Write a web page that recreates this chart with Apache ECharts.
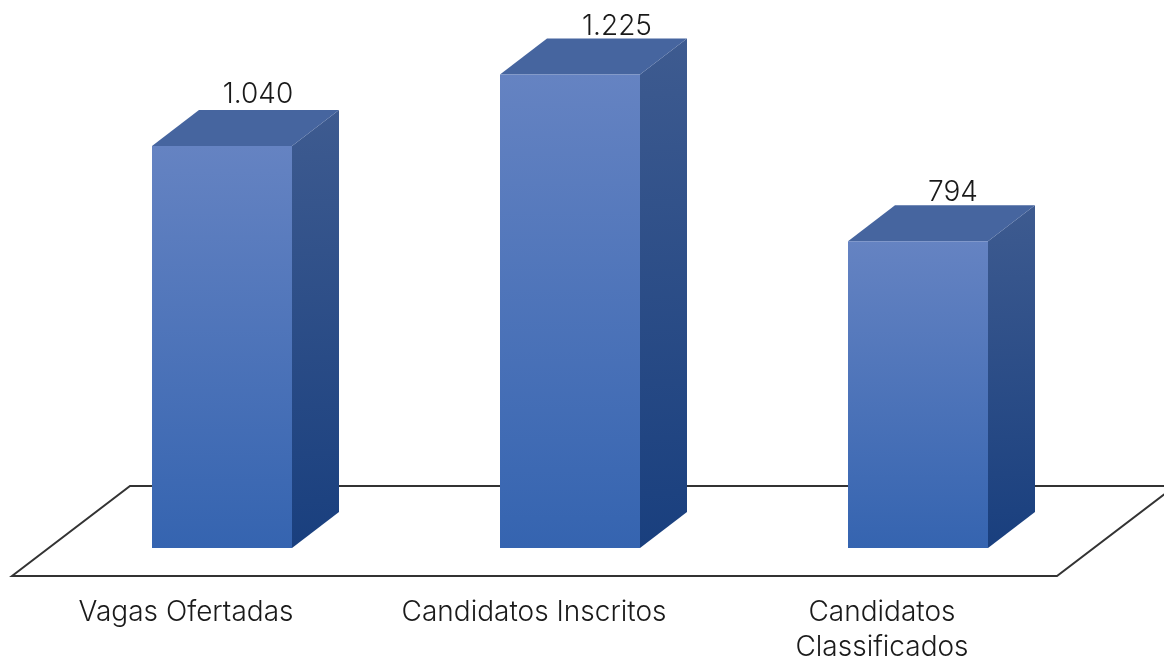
<!DOCTYPE html>
<html><head><meta charset="utf-8">
<style>html,body{margin:0;padding:0;background:#fff}#c{width:1164px;height:662px}</style>
<script src="https://cdn.jsdelivr.net/npm/echarts@6/dist/echarts.min.js"></script>
</head><body><div id="c"></div>
<script>
const categories = ['Vagas Ofertadas', 'Candidatos Inscritos', 'Candidatos\nClassificados'];
const values = [1040, 1225, 794];
const valueLabels = ['1.040', '1.225', '794'];

const FONT = 'Inter, Roboto, sans-serif';
const DX = 47, DY = -36, HALF = 70;
const labelShift = [[36, -16], [47, -12], [35, -13]];
const chart = echarts.init(document.getElementById('c'));

function grad(x, y, x2, y2, a, b) {
  return new echarts.graphic.LinearGradient(x, y, x2, y2, [{offset: 0, color: a}, {offset: 1, color: b}]);
}
function renderBar(params, api) {
  const i = api.value(0);
  const top = api.coord([i, api.value(1)]);
  const base = api.coord([i, 0]);
  const l = top[0] - HALF, r = top[0] + HALF, t = top[1], b = base[1];
  return {
    type: 'group',
    children: [
      {type: 'polygon', shape: {points: [[r, t], [r + DX, t + DY], [r + DX, b + DY], [r, b]]},
       style: {fill: grad(0, 0, 0.3, 1, '#3e5b90', '#193f7e')}},
      {type: 'polygon', shape: {points: [[l, t], [l + DX, t + DY], [r + DX, t + DY], [r, t]]},
       style: {fill: '#46659f'}},
      {type: 'rect', shape: {x: l, y: t, width: 2 * HALF, height: b - t},
       style: {fill: grad(0, 0, 0, 1, '#6583c2', '#3564b0')}},
      {type: 'text', x: top[0] + labelShift[i][0], y: t + DY + labelShift[i][1],
       style: {text: valueLabels[i], font: '300 28px ' + FONT, fill: '#1a1a1a', align: 'center', verticalAlign: 'middle'}}
    ]
  };
}
function renderFloor(params, api) {
  const s = params.coordSys;
  const y0 = api.coord([0, 0])[1];
  const f = y0 + 28, k = y0 - 62;
  const l = s.x - 36, r = l + 1045;
  return {type: 'polygon', silent: true,
    shape: {points: [[l, f], [l + 118, k], [r + 118, k], [r, f]]},
    style: {fill: 'none', stroke: '#333333', lineWidth: 2}};
}
chart.setOption({
  animation: false,
  backgroundColor: '#fff',
  grid: [
    {left: 48, top: 0, width: 1044, height: 548, outerBoundsMode: 'none'},
    {left: 12, top: 0, width: 1044, height: 576, outerBoundsMode: 'none'}
  ],
  xAxis: [
    {type: 'category', gridIndex: 0, data: categories, axisLine: {show: false}, axisTick: {show: false}, axisLabel: {show: false}},
    {type: 'category', gridIndex: 1, data: categories, axisLine: {show: false}, axisTick: {show: false},
     axisLabel: {show: true, interval: 0, margin: 19, color: '#1a1a1a', fontFamily: FONT, fontWeight: 300, fontSize: 28, lineHeight: 35, verticalAlign: 'top'}}
  ],
  yAxis: [
    {type: 'value', gridIndex: 0, min: 0, max: 1418, show: false, splitLine: {show: false}},
    {type: 'value', gridIndex: 1, min: 0, max: 1, show: false, splitLine: {show: false}}
  ],
  series: [
    {type: 'custom', xAxisIndex: 0, yAxisIndex: 0, z: 1, clip: false, renderItem: renderFloor, data: [[0]], silent: true},
    {type: 'custom', xAxisIndex: 0, yAxisIndex: 0, z: 2, clip: false, renderItem: renderBar,
     encode: {x: 0, y: 1}, data: values.map((v, i) => [i, v])}
  ]
});
</script></body></html>
